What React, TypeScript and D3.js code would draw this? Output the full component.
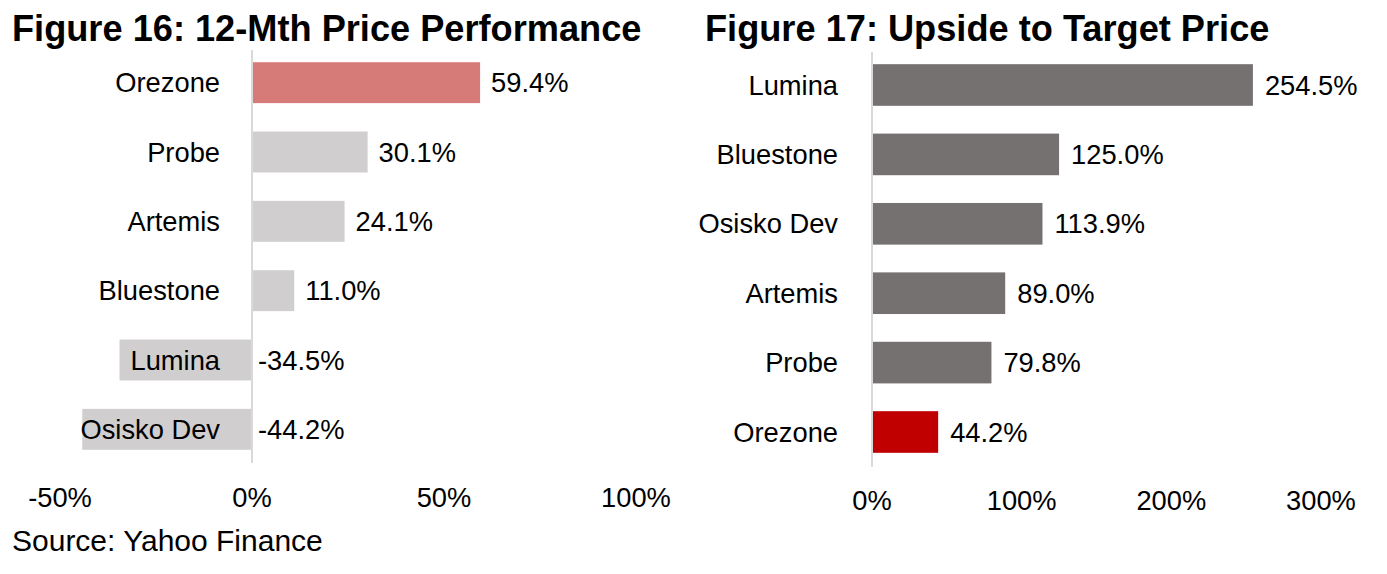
import React from "react";
import * as d3 from "d3";

const leftCategories = ["Orezone", "Probe", "Artemis", "Bluestone", "Lumina", "Osisko Dev"];
const leftValues = [59.4, 30.1, 24.1, 11.0, -34.5, -44.2];
const leftTicks = [-50, 0, 50, 100];
const leftHighlight = "Orezone";

const rightCategories = ["Lumina", "Bluestone", "Osisko Dev", "Artemis", "Probe", "Orezone"];
const rightValues = [254.5, 125.0, 113.9, 89.0, 79.8, 44.2];
const rightTicks = [0, 100, 200, 300];
const rightHighlight = "Orezone";

const FONT = "'Liberation Sans', Arial, Helvetica, sans-serif";
const fmt = (v: number) => `${v.toFixed(1)}%`;

export default function App() {
  const W = 1387;
  const H = 574;

  const xL = d3.scaleLinear().domain([-50, 100]).range([60, 636]);
  const yL = d3.scaleBand<string>().domain(leftCategories).range([48, 464]).paddingInner(0.41).paddingOuter(0.205);

  const xR = d3.scaleLinear().domain([0, 300]).range([872, 1321]);
  const yR = d3.scaleBand<string>().domain(rightCategories).range([50.3, 466.7]).paddingInner(0.4).paddingOuter(0.2);

  const labelSize = 27.3;

  return (
    <svg width={W} height={H} style={{ position: "absolute", left: 0, top: 0, background: "#fff" }} fontFamily={FONT}>
      <rect x={0} y={0} width={W} height={H} fill="#fff" />
      {/* Titles */}
      <text x={12} y={41} fontSize={36.2} fontWeight="bold" fill="#000">Figure 16: 12-Mth Price Performance</text>
      <text x={705} y={41} fontSize={36.2} fontWeight="bold" fill="#000">Figure 17: Upside to Target Price</text>

      {/* Left chart */}
      {leftCategories.map((c, i) => {
        const v = leftValues[i];
        const x0 = xL(Math.min(0, v));
        const x1 = xL(Math.max(0, v));
        const y = yL(c)!;
        const bh = yL.bandwidth();
        const cy = y + bh / 2;
        return (
          <g key={c}>
            <rect x={x0} y={y} width={x1 - x0} height={bh} fill={c === leftHighlight ? "#D77B78" : "#D0CECE"} />
            <text x={220} y={cy} dy="0.35em" textAnchor="end" fontSize={labelSize} fill="#000">{c}</text>
            <text x={v >= 0 ? x1 + 11 : xL(0) + 6} y={cy} dy="0.35em" textAnchor="start" fontSize={labelSize} fill="#000">{fmt(v)}</text>
          </g>
        );
      })}
      <line x1={xL(0)} x2={xL(0)} y1={50} y2={463} stroke="#D9D9D9" strokeWidth={2} />
      {leftTicks.map((t) => (
        <text key={t} x={xL(t)} y={507} textAnchor="middle" fontSize={labelSize} fill="#000">{`${t}%`}</text>
      ))}

      {/* Right chart */}
      {rightCategories.map((c, i) => {
        const v = rightValues[i];
        const x0 = xR(0);
        const x1 = xR(v);
        const y = yR(c)!;
        const bh = yR.bandwidth();
        const cy = y + bh / 2;
        return (
          <g key={c}>
            <rect x={x0} y={y} width={x1 - x0} height={bh} fill={c === rightHighlight ? "#C00000" : "#767171"} />
            <text x={838} y={cy} dy="0.35em" textAnchor="end" fontSize={labelSize} fill="#000">{c}</text>
            <text x={x1 + 12} y={cy} dy="0.35em" textAnchor="start" fontSize={labelSize} fill="#000">{fmt(v)}</text>
          </g>
        );
      })}
      <line x1={xR(0)} x2={xR(0)} y1={52} y2={467} stroke="#D9D9D9" strokeWidth={2} />
      {rightTicks.map((t) => (
        <text key={t} x={xR(t)} y={510} textAnchor="middle" fontSize={labelSize} fill="#000">{`${t}%`}</text>
      ))}

      {/* Source */}
      <text x={12} y={551} fontSize={30} fill="#000">Source: Yahoo Finance</text>
    </svg>
  );
}
